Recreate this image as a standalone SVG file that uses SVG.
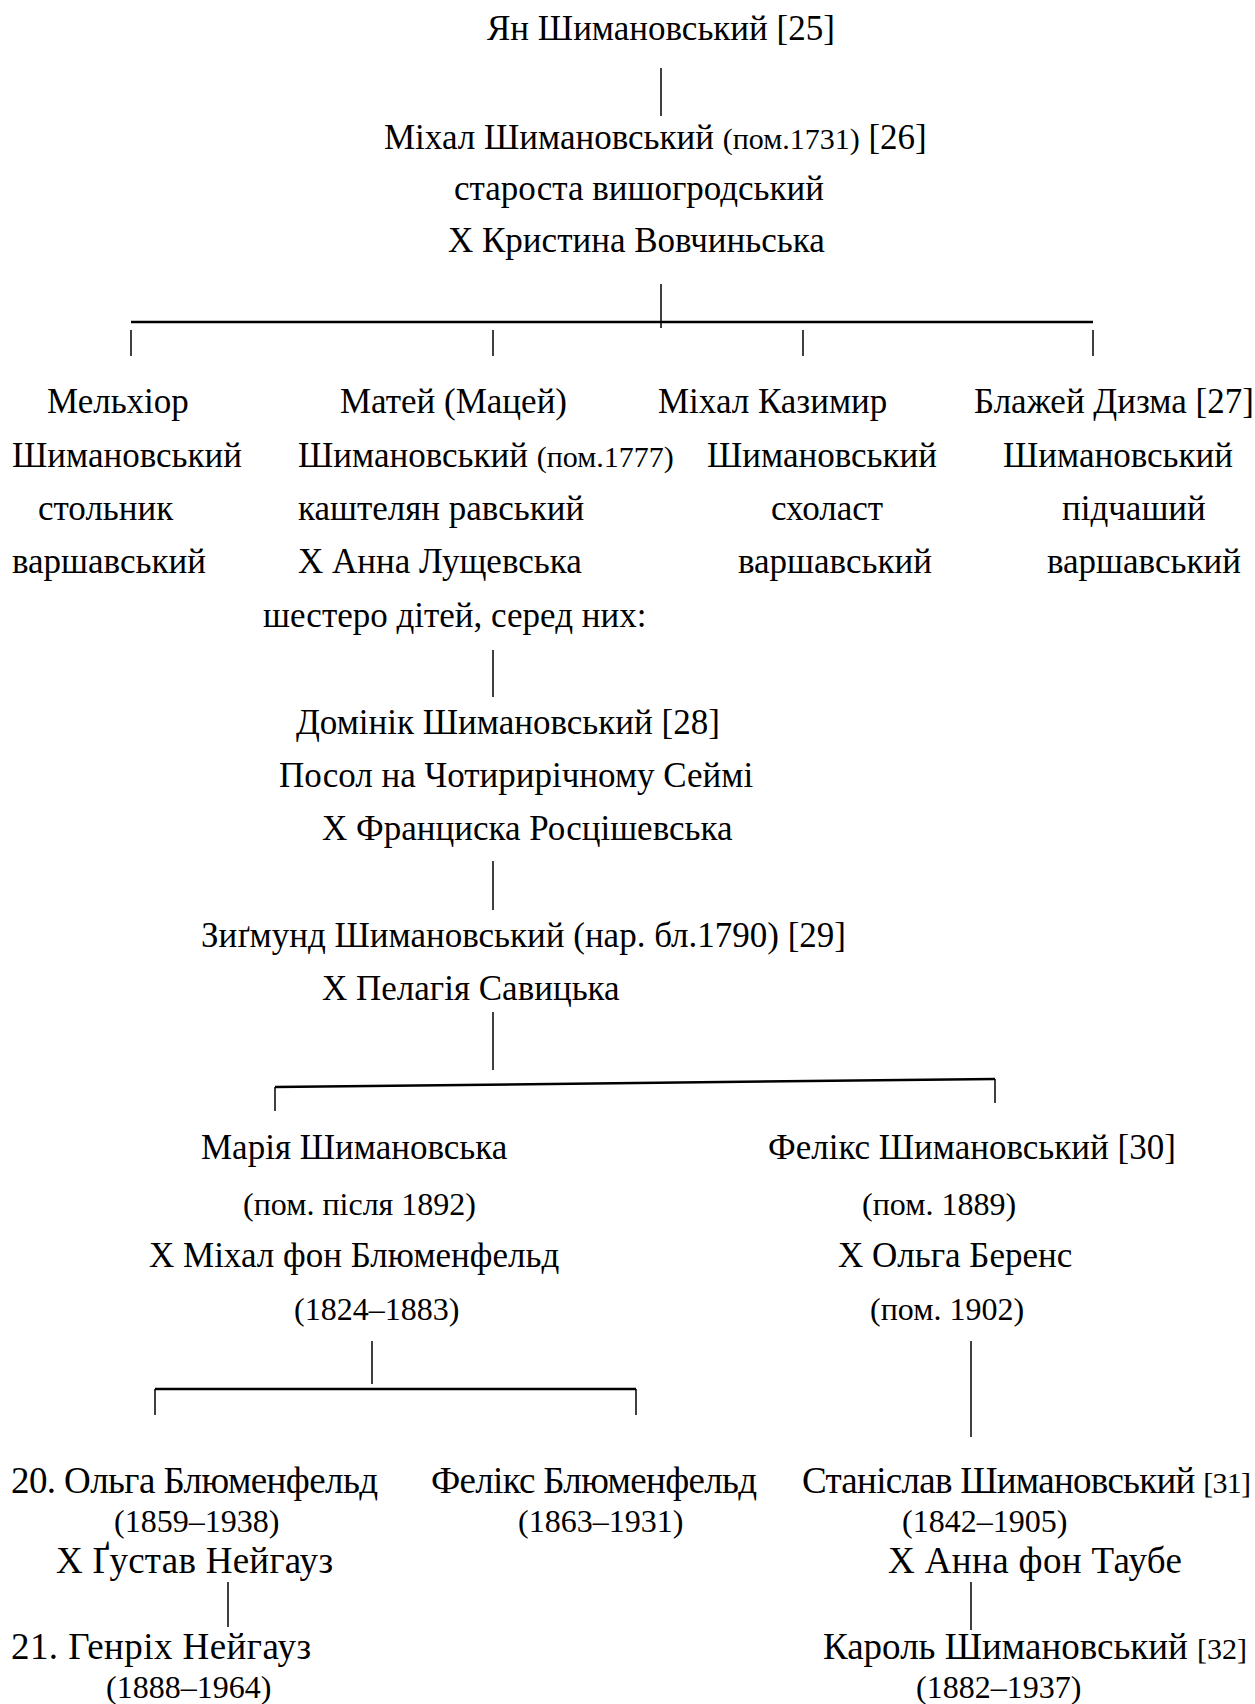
<svg xmlns="http://www.w3.org/2000/svg" width="1255" height="1704" viewBox="0 0 1255 1704">
<style>
text{font-family:"Liberation Serif","Times New Roman",serif;font-size:35px;fill:#000}
.s{font-size:30px}
.d{font-size:32px}
.L{font-size:37px}
.ln{stroke:#000;stroke-width:1.5;fill:none}
.lt{stroke:#000;stroke-width:2.5;fill:none}
</style>
<rect width="1255" height="1704" fill="#fff"/>
<g id="connectors">
<line class="ln" x1="661" y1="68" x2="661" y2="116"/>
<line class="ln" x1="661" y1="284" x2="661" y2="328"/>
<line class="lt" x1="131" y1="322" x2="1093" y2="322"/>
<line class="ln" x1="131" y1="330" x2="131" y2="356"/>
<line class="ln" x1="493" y1="330" x2="493" y2="356"/>
<line class="ln" x1="803" y1="330" x2="803" y2="356"/>
<line class="ln" x1="1093" y1="330" x2="1093" y2="356"/>
<line class="ln" x1="493" y1="650" x2="493" y2="697"/>
<line class="ln" x1="493" y1="861" x2="493" y2="910"/>
<line class="ln" x1="493" y1="1012" x2="493" y2="1070"/>
<line class="lt" x1="275" y1="1087" x2="995" y2="1079"/>
<line class="ln" x1="275" y1="1087" x2="275" y2="1111"/>
<line class="ln" x1="995" y1="1079" x2="995" y2="1103"/>
<line class="ln" x1="372" y1="1341" x2="372" y2="1384"/>
<line class="lt" x1="155" y1="1389" x2="636" y2="1389"/>
<line class="ln" x1="155" y1="1389" x2="155" y2="1415"/>
<line class="ln" x1="636" y1="1389" x2="636" y2="1415"/>
<line class="ln" x1="971" y1="1341" x2="971" y2="1437"/>
<line class="ln" x1="228" y1="1582" x2="228" y2="1627"/>
<line class="ln" x1="971" y1="1582" x2="971" y2="1630"/>
</g>
<g id="n-yan"><text x="487" y="40">Ян Шимановський [25]</text></g>
<g id="n-mikhal">
<text x="384" y="149">Міхал Шимановський <tspan class="s">(пом.1731)</tspan> [26]</text>
<text x="454" y="200">староста вишогродський</text>
<text x="448" y="252">Х Кристина Вовчиньська</text>
</g>
<g id="n-melkhior">
<text x="47" y="413">Мельхіор</text>
<text x="12" y="467">Шимановський</text>
<text x="38" y="520">стольник</text>
<text x="12" y="573">варшавський</text>
</g>
<g id="n-matei">
<text x="340" y="413">Матей (Мацей)</text>
<text x="298" y="467">Шимановський <tspan class="s">(пом.1777)</tspan></text>
<text x="298" y="520">каштелян равський</text>
<text x="298" y="573">Х Анна Лущевська</text>
<text x="263" y="627">шестеро дітей, серед них:</text>
</g>
<g id="n-mikhal-kazymyr">
<text x="658" y="413">Міхал Казимир</text>
<text x="707" y="467">Шимановський</text>
<text x="771" y="520">схоласт</text>
<text x="738" y="573">варшавський</text>
</g>
<g id="n-blazhei">
<text x="974" y="413">Блажей Дизма [27]</text>
<text x="1003" y="467">Шимановський</text>
<text x="1062" y="520">підчаший</text>
<text x="1047" y="573">варшавський</text>
</g>
<g id="n-dominik">
<text x="296" y="734">Домінік Шимановський [28]</text>
<text x="279" y="787">Посол на Чотирирічному Сеймі</text>
<text x="322" y="840">Х Франциска Росцішевська</text>
</g>
<g id="n-zygmunt">
<text x="201" y="947">Зиґмунд Шимановський (нар. бл.1790) [29]</text>
<text x="322" y="1000">Х Пелагія Савицька</text>
</g>
<g id="n-mariia">
<text x="201" y="1159">Марія Шимановська</text>
<text class="d" x="243" y="1215">(пом. після 1892)</text>
<text x="149" y="1267">Х Міхал фон Блюменфельд</text>
<text class="d" x="294" y="1320">(1824–1883)</text>
</g>
<g id="n-feliks">
<text x="768" y="1159">Фелікс Шимановський [30]</text>
<text class="d" x="862" y="1215">(пом. 1889)</text>
<text x="838" y="1267">Х Ольга Беренс</text>
<text class="d" x="870" y="1320">(пом. 1902)</text>
</g>
<g id="n-olga">
<text class="L" x="11" y="1493" textLength="367" lengthAdjust="spacing">20. Ольга Блюменфельд</text>
<text class="d" x="114" y="1532">(1859–1938)</text>
<text class="L" x="56" y="1573" textLength="277" lengthAdjust="spacing">Х Ґустав Нейгауз</text>
</g>
<g id="n-feliks-b">
<text class="L" x="431" y="1493" textLength="326" lengthAdjust="spacing">Фелікс Блюменфельд</text>
<text class="d" x="518" y="1532">(1863–1931)</text>
</g>
<g id="n-stanislav">
<text class="L" x="802" y="1493" textLength="449" lengthAdjust="spacing">Станіслав Шимановський <tspan class="s">[31]</tspan></text>
<text class="d" x="902" y="1532">(1842–1905)</text>
<text class="L" x="888" y="1573" textLength="294" lengthAdjust="spacing">Х Анна фон Таубе</text>
</g>
<g id="n-henrikh">
<text class="L" x="11" y="1659" textLength="300" lengthAdjust="spacing">21. Генріх Нейгауз</text>
<text class="d" x="106" y="1698">(1888–1964)</text>
</g>
<g id="n-karol">
<text class="L" x="823" y="1659">Кароль Шимановський <tspan class="s">[32]</tspan></text>
<text class="d" x="916" y="1698">(1882–1937)</text>
</g>
</svg>
